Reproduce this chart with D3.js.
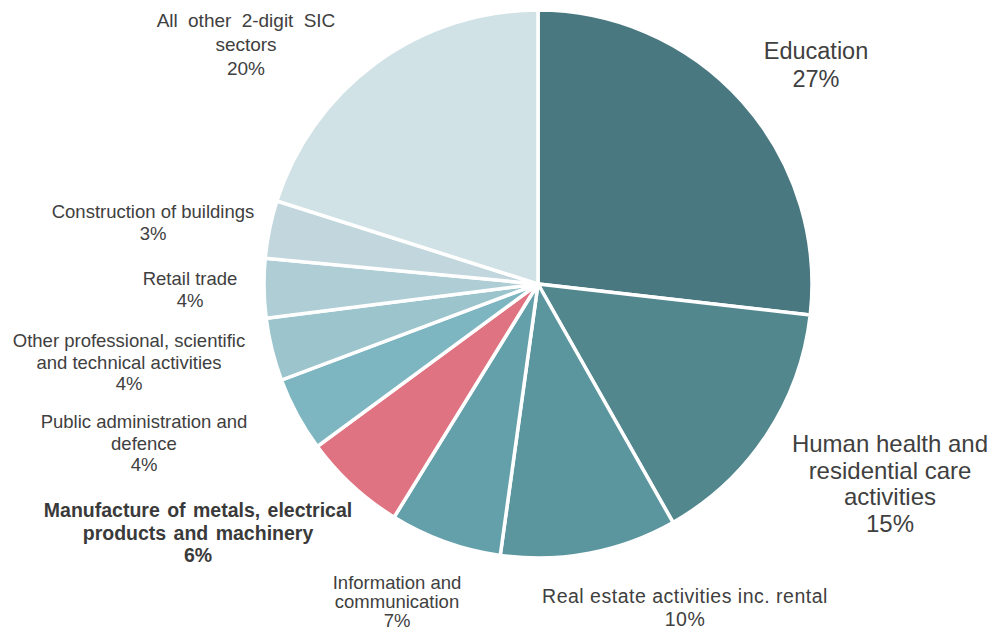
<!DOCTYPE html>
<html>
<head>
<meta charset="utf-8">
<script src="https://cdn.jsdelivr.net/npm/d3@7"></script>
<style>
  html, body { margin: 0; padding: 0; background: #fff; }
  svg { display: block; font-family: "Liberation Sans", Arial, sans-serif; }
</style>
</head>
<body>
<svg class="myChart" width="992" height="631"></svg>
<script>
// sectors, clockwise from 12 o'clock
const sectors = [
  "Education",
  "Human health and residential care activities",
  "Real estate activities inc. rental",
  "Information and communication",
  "Manufacture of metals, electrical products and machinery",
  "Public administration and defence",
  "Other professional, scientific and technical activities",
  "Retail trade",
  "Construction of buildings",
  "All other 2-digit SIC sectors"
];
const shares = [26.8, 15.0, 10.4, 6.6, 6.1, 4.4, 3.7, 3.5, 3.4, 20.1];

// label line breaks as drawn
const labelLines = [
  ["Education"],
  ["Human health and", "residential care", "activities"],
  ["Real estate activities inc. rental"],
  ["Information and", "communication"],
  ["Manufacture of metals, electrical", "products and machinery"],
  ["Public administration and", "defence"],
  ["Other professional, scientific", "and technical activities"],
  ["Retail trade"],
  ["Construction of buildings"],
  ["All other 2-digit SIC", "sectors"]
];

const colors = ["#497880", "#52878e", "#5b969f", "#64a0aa", "#e07381",
                "#7db6c0", "#9bc4cc", "#aecdd4", "#c1d7dd", "#d1e2e6"];

// label layout: centre x, first baseline y, font size, line gap
const labelLayout = [
  {x: 816, y: 59, size: 23.5, gap: 27.5},
  {x: 890, y: 452, size: 24, gap: 26.5},
  {x: 685, y: 603, size: 19.5, gap: 23, ls: 0.5},
  {x: 397, y: 588.5, size: 18.5, gap: 19.3},
  {x: 198, y: 517, size: 19.5, gap: 22.5, bold: true, ws: 2},
  {x: 144, y: 428, size: 18.5, gap: 21.5},
  {x: 129, y: 347, size: 18.5, gap: 21.5},
  {x: 190, y: 285, size: 18.5, gap: 21.7},
  {x: 153, y: 218, size: 18.5, gap: 21.7},
  {x: 246, y: 27, size: 19, gap: 24, ws: 5}
];

const data = sectors.map((s, i) => ({sector: s, share: shares[i], lines: labelLines[i], i: i}));

const svg = d3.select('svg.myChart');
const cx = 538, cy = 284, radius = 274;

const pie = d3.pie().sort(null).value(d => d.share);
const arc = d3.arc().innerRadius(0).outerRadius(radius);

const g = svg.append('g').attr('transform', `translate(${cx}, ${cy})`);

g.selectAll('path').data(pie(data))
  .enter().append('path')
  .attr('d', arc)
  .attr('fill', d => colors[d.data.i])
  .attr('stroke', '#fff')
  .attr('stroke-width', 3.5)
  .attr('stroke-linejoin', 'miter');

const labels = svg.selectAll('.label').data(data)
  .enter().append('text')
  .attr('class', 'label')
  .attr('text-anchor', 'middle')
  .attr('fill', d => labelLayout[d.i].bold ? '#3a3a3a' : '#404040')
  .attr('font-weight', d => labelLayout[d.i].bold ? 'bold' : 'normal')
  .attr('font-size', d => labelLayout[d.i].size + 'px')
  .attr('letter-spacing', d => (labelLayout[d.i].ls || 0) + 'px')
  .attr('word-spacing', d => (labelLayout[d.i].ws || 0) + 'px');

labels.each(function(d) {
  const L = labelLayout[d.i];
  const t = d3.select(this);
  const lines = d.lines.concat([Math.round(d.share) + '%']);
  lines.forEach((ln, k) => {
    t.append('tspan')
      .attr('x', L.x)
      .attr('y', L.y + k * L.gap)
      .text(ln);
  });
});
</script>
</body>
</html>
